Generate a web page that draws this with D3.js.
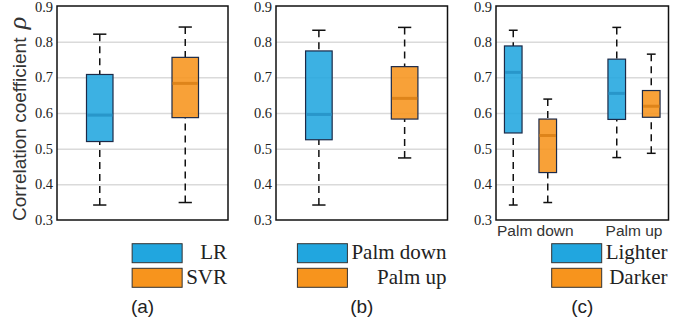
<!DOCTYPE html>
<html>
<head>
<meta charset="utf-8">
<script src="https://cdn.jsdelivr.net/npm/d3@7"></script>
<style>
  html, body { margin: 0; padding: 0; background: #fff; }
  svg { display: block; }
</style>
</head>
<body>
<div id="chart"></div>
<script>
// y axis
const yTicks = [0.3, 0.4, 0.5, 0.6, 0.7, 0.8, 0.9];
const gridTicks = [0.4, 0.5, 0.6, 0.7, 0.8];

// stats are [min, q1, median, q3, max]
// (a) regression method
const methodNames = ["LR", "SVR"];
const methodStats = [
  [0.342, 0.520, 0.594, 0.708, 0.821],
  [0.349, 0.587, 0.683, 0.756, 0.841]
];

// (b) hand orientation
const orientNames = ["Palm down", "Palm up"];
const orientStats = [
  [0.342, 0.525, 0.596, 0.774, 0.832],
  [0.474, 0.583, 0.641, 0.730, 0.840]
];

// (c) skin tone per orientation
const skinGroups = ["Palm down", "Palm up"];
const skinNames = ["Lighter", "Darker"];
const lighterStats = [
  [0.342, 0.544, 0.714, 0.788, 0.832],
  [0.475, 0.582, 0.655, 0.751, 0.840]
];
const darkerStats = [
  [0.349, 0.433, 0.537, 0.583, 0.639],
  [0.487, 0.588, 0.619, 0.663, 0.765]
];

const colors = ["#21a6df", "#f7941d"];
const medianColors = ["#2896ca", "#de841a"];

const W = 688, H = 324;
const plotTop = 6, plotBottom = 220;

const svg = d3.select("#chart").append("svg")
  .attr("width", W).attr("height", H);

const y = d3.scaleLinear().domain([0.3, 0.9]).range([plotBottom, plotTop]);

const panels = [
  { x0: 57, x1: 228, tag: "(a)" },
  { x0: 276, x1: 447.5, tag: "(b)" },
  { x0: 496, x1: 668.5, tag: "(c)" }
];

function drawFrame(p) {
  const g = svg.append("g");
  const w = p.x1 - p.x0;
  // grid
  g.append("g")
    .attr("transform", `translate(${p.x0},0)`)
    .call(d3.axisLeft(y).tickValues(gridTicks).tickSize(-w).tickFormat(""))
    .call(s => s.select(".domain").remove())
    .selectAll("line").attr("stroke", "#dadada").attr("stroke-width", 1.5);
  // tick labels (top one nudged so it stays on the page)
  g.append("g")
    .attr("transform", `translate(${p.x0},0)`)
    .call(d3.axisLeft(y).tickValues(yTicks).tickSize(0).tickPadding(4).tickFormat(d3.format(".1f")))
    .call(s => s.select(".domain").remove())
    .selectAll("text")
    .attr("dy", d => d === 0.9 ? "0.4em" : "0.32em")
    .attr("font-family", "'Liberation Serif', 'DejaVu Serif', serif")
    .attr("font-size", "14.5px")
    .attr("fill", "#222");
  return g;
}

function drawBox(g, cx, bw, s, ci) {
  const cap = bw / 2;
  // whiskers
  g.append("line")
    .attr("x1", cx).attr("x2", cx)
    .attr("y1", y(s[4])).attr("y2", y(s[3]))
    .attr("stroke", "#111").attr("stroke-width", 1.5)
    .attr("stroke-dasharray", "7,5");
  g.append("line")
    .attr("x1", cx).attr("x2", cx)
    .attr("y1", y(s[0])).attr("y2", y(s[1]))
    .attr("stroke", "#111").attr("stroke-width", 1.5)
    .attr("stroke-dasharray", "7,5");
  [s[0], s[4]].forEach(v => {
    g.append("line")
      .attr("x1", cx - cap / 2).attr("x2", cx + cap / 2)
      .attr("y1", y(v)).attr("y2", y(v))
      .attr("stroke", "#111").attr("stroke-width", 1.5);
  });
  // box
  g.append("rect")
    .attr("x", cx - bw / 2).attr("width", bw)
    .attr("y", y(s[3])).attr("height", y(s[1]) - y(s[3]))
    .attr("fill", colors[ci]).attr("fill-opacity", 0.88)
    .attr("stroke", "#1c2a48").attr("stroke-width", 1.2);
  // median
  g.append("line")
    .attr("x1", cx - bw / 2 + 0.6).attr("x2", cx + bw / 2 - 0.6)
    .attr("y1", y(s[2])).attr("y2", y(s[2]))
    .attr("stroke", medianColors[ci]).attr("stroke-width", 3);
}

function drawBorder(p) {
  svg.append("rect")
    .attr("x", p.x0).attr("y", plotTop)
    .attr("width", p.x1 - p.x0).attr("height", plotBottom - plotTop)
    .attr("fill", "none").attr("stroke", "#111").attr("stroke-width", 1.5);
}

function drawLegend(p, names) {
  const g = svg.append("g");
  const textRight = p.x1 - 1;
  const texts = names.map((n, i) => g.append("text")
    .attr("x", textRight).attr("y", 259 + i * 24.5)
    .attr("text-anchor", "end")
    .attr("font-family", "'Liberation Serif', 'DejaVu Serif', serif")
    .attr("font-size", "21px")
    .attr("fill", "#222")
    .text(n));
  const maxW = d3.max(texts, t => t.node().getComputedTextLength());
  const rectRight = textRight - maxW - 4;
  names.forEach((n, i) => {
    g.append("rect")
      .attr("x", rectRight - 50).attr("y", 243.7 + i * 24.6)
      .attr("width", 50).attr("height", 19)
      .attr("fill", colors[i]).attr("stroke", "#333").attr("stroke-width", 1);
  });
}

function drawTag(p) {
  svg.append("text")
    .attr("x", (p.x0 + p.x1) / 2).attr("y", 313)
    .attr("text-anchor", "middle")
    .attr("font-family", "'Liberation Sans', Arial, sans-serif")
    .attr("font-size", "19px")
    .attr("fill", "#222")
    .text(p.tag);
}

// (a) and (b): two boxes each
[[panels[0], methodNames, methodStats], [panels[1], orientNames, orientStats]].forEach(([p, names, stats]) => {
  const g = drawFrame(p);
  const x = d3.scaleBand().domain(names).range([p.x0, p.x1]).padding(0);
  const bw = x.bandwidth() * 0.31;
  names.forEach((n, i) => drawBox(g, x(n) + x.bandwidth() / 2, bw, stats[i], i));
  drawBorder(p);
  drawLegend(p, names);
  drawTag(p);
});

// (c): grouped boxes
{
  const p = panels[2];
  const g = drawFrame(p);
  const x0 = d3.scaleBand().domain(skinGroups).range([p.x0, p.x1]).paddingInner(1 / 3).paddingOuter(0);
  const x1 = d3.scaleBand().domain(skinNames).range([0, x0.bandwidth()]).padding(0);
  const bw = x1.bandwidth() * 0.51;
  const skinStats = [lighterStats, darkerStats];
  skinGroups.forEach((grp, gi) => {
    skinNames.forEach((sn, si) => {
      drawBox(g, x0(grp) + x1(sn) + x1.bandwidth() / 2, bw, skinStats[si][gi], si);
    });
  });
  drawBorder(p);
  svg.append("g")
    .attr("transform", `translate(0,${plotBottom})`)
    .call(d3.axisBottom(x0).tickSize(0).tickPadding(0))
    .call(s => s.select(".domain").remove())
    .selectAll("text")
    .attr("dy", "16px")
    .attr("font-family", "'Liberation Sans', Arial, sans-serif")
    .attr("font-size", "15.5px")
    .attr("fill", "#333")
    .each(function () {
      // keep labels inside the axes' horizontal extent
      const b = this.getBBox();
      const tx = +this.parentNode.getAttribute("transform").match(/translate\(([^,]+)/)[1];
      const left = tx + b.x, right = tx + b.x + b.width;
      let shift = 0;
      if (left < p.x0 + 1) shift = p.x0 + 1 - left;
      if (right > p.x1 - 1) shift = p.x1 - 1 - right;
      d3.select(this).attr("x", shift);
    });
  drawLegend(p, skinNames);
  drawTag(p);
}

// y label
const yl = svg.append("text")
  .attr("transform", "translate(25.5,221) rotate(-90)")
  .attr("text-anchor", "start")
  .attr("font-family", "'Liberation Sans', Arial, sans-serif")
  .attr("font-size", "19px")
  .attr("fill", "#333");
yl.append("tspan").text("Correlation coefficient ");
yl.append("tspan")
  .attr("dx", 3)
  .attr("font-family", "'Liberation Serif', 'DejaVu Serif', serif")
  .attr("font-style", "italic")
  .attr("font-size", "26px")
  .text("ρ");
</script>
</body>
</html>
